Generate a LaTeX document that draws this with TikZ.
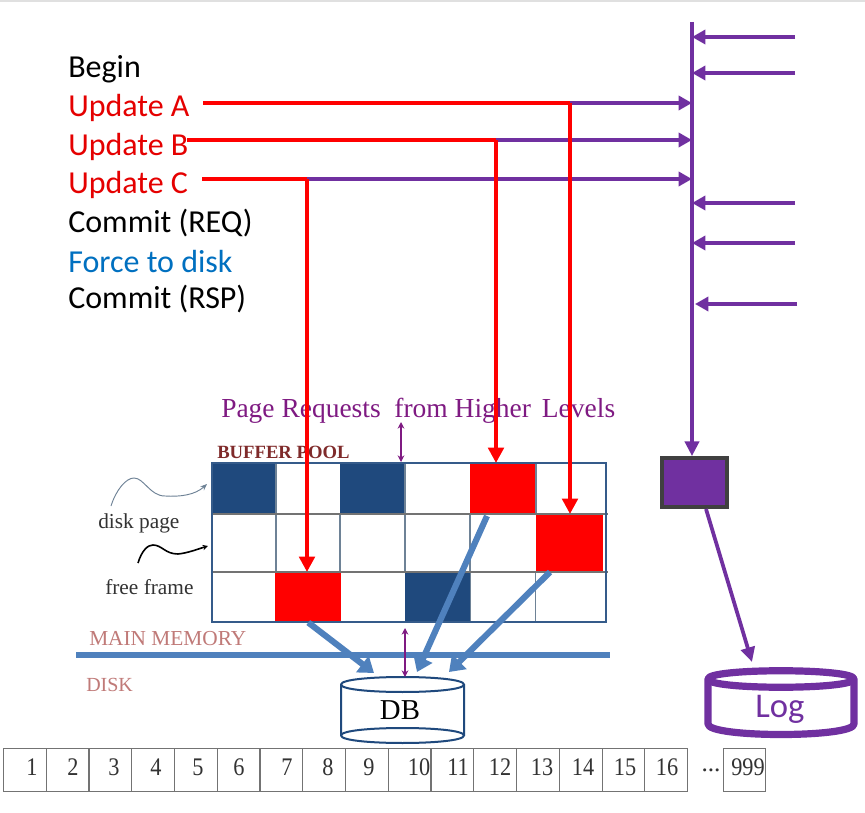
\documentclass[tikz,border=0pt]{standalone}
\usepackage{fontspec}
\setmainfont{Liberation Serif}
\newfontfamily\calfont{Carlito}
\usetikzlibrary{arrows.meta}
\definecolor{pur}{HTML}{7030A0}
\definecolor{mag}{HTML}{7F1A82}
\definecolor{navy}{HTML}{1F497D}
\definecolor{steel}{HTML}{4F81BD}
\definecolor{ored}{HTML}{FF0000}
\definecolor{gridc}{HTML}{6E8296}
\definecolor{rose}{HTML}{C07A78}
\definecolor{dred}{HTML}{7F2A2A}
\definecolor{frc}{HTML}{0070C0}
\tikzset{
  x=0.75pt,y=-0.75pt,
  stepline/.style={font=\calfont\fontsize{24pt}{26pt}\selectfont,anchor=west,inner sep=0pt},
  redline/.style={draw=ored,line width=3pt},
  redarrow/.style={redline,-{Triangle[length=11.5pt,width=11.5pt]}},
  purline/.style={draw=pur,line width=2.8pt},
  purarrow/.style={purline,-{Triangle[length=10pt,width=10.5pt]}},
  bluearrow/.style={draw=steel,line width=4.6pt,-{Triangle[length=11pt,width=15pt]}},
  thinarrow/.style={draw=mag,line width=1.3pt,{Stealth[length=5pt,width=5pt]}-{Stealth[length=5pt,width=5pt]}},
  cell/.style={draw=none,fill=#1,inner sep=0pt,anchor=north west},
  stripcell/.style={draw=black!55,line width=0.6pt,minimum width=32.06pt,minimum height=32.25pt,inner sep=0pt,anchor=north west},
  num/.style={font=\fontsize{19pt}{21pt}\selectfont,text=black!80,inner sep=0pt},
  sertext/.style={inner sep=0pt,anchor=west},
}
\begin{document}
\begin{tikzpicture}
\useasboundingbox (0,0) rectangle (865,813);
\fill[white] (0,0) rectangle (865,813);
\fill[black!12] (0,0) rectangle (865,2);
% transaction steps
\node[stepline,text=black] (begin) at (68,69.5) {Begin};
\node[stepline,text=ored!90!black] (ua) at (68,107.5) {Update A};
\node[stepline,text=ored!90!black] (ub) at (68,146.5) {Update B};
\node[stepline,text=ored!90!black] (uc) at (68,184.5) {Update C};
\node[stepline,text=black] (creq) at (68,223) {Commit (REQ)};
\node[stepline,text=frc] (force) at (68,261.5) {Force to disk};
\node[stepline,text=black] (crsp) at (68,299.5) {Commit (RSP)};
% labels of buffer pool
\node[sertext,text=mag,font=\fontsize{20.6pt}{22pt}\selectfont] (req) at (221,411) {Page Requests\hspace{0.25em} from Higher\hspace{0.15em} Levels};
\node[sertext,text=dred,font=\bfseries\fontsize{14pt}{16pt}\selectfont] (bp) at (217,452) {BUFFER POOL};
\node[sertext,text=black!80,font=\fontsize{16pt}{18pt}\selectfont] (dp) at (98,523) {disk page};
\node[sertext,text=black!80,font=\fontsize{16pt}{18pt}\selectfont] (ff) at (105,587) {free frame};
\node[sertext,text=rose,font=\fontsize{16pt}{18pt}\selectfont] (mm) at (89,639) {MAIN MEMORY};
\node[sertext,text=rose,font=\fontsize{15pt}{17pt}\selectfont] (dk) at (86,685) {DISK};
% filled cells
\node[cell=navy,minimum width=47.25pt,minimum height=38.25pt] (d1) at (212,463) {};
\node[cell=navy,minimum width=48.75pt,minimum height=38.25pt] (d2) at (340,463) {};
\node[cell=navy,minimum width=48.75pt,minimum height=37.5pt] (d3) at (405,572) {};
\node[cell=ored,minimum width=49.5pt,minimum height=37.5pt] (r1) at (275,572) {};
\node[cell=ored,minimum width=49.5pt,minimum height=38.25pt] (r2) at (470,463) {};
\node[cell=ored,minimum width=50.25pt,minimum height=43.5pt] (r3) at (536,514) {};
% grid
\draw[gridc,line width=0.9pt] (276,514) -- (276,572) (340,514) -- (340,572) (405,514) -- (405,572) (470,514) -- (470,572) (536,463) -- (536,514);
\draw[gridc,line width=0.9pt] (276,463) -- (276,514) (405,463) -- (405,514);
\draw[gridc,line width=0.7pt] (470,572) -- (470,622) (535,572) -- (535,622);
\draw[black!55,line width=0.8pt] (212,514) -- (608,514) (212,572) -- (608,572);
\draw[navy!90,line width=1.6pt] (212,463) rectangle (606,622);
% blue divider and page arrows
\draw[steel,line width=4.6pt] (76,655) -- (610,655);
% database
\draw[navy,line width=1.5pt,fill=white] (341,684.5) .. controls (341,674.5) and (464,674.5) .. (464,684.5) -- (464,735.5) .. controls (464,745.5) and (341,745.5) .. (341,735.5) -- cycle;
\draw[navy,line width=1.5pt] (341,684.5) .. controls (341,694.5) and (464,694.5) .. (464,684.5);
\draw[navy,line width=1.5pt] (341,735.5) .. controls (341,725.5) and (464,725.5) .. (464,735.5);
\node[font=\fontsize{21.6pt}{23pt}\selectfont,inner sep=0pt] (dbl) at (400,710) {DB};
\coordinate (dba) at (374,673);
\coordinate (dbb) at (417,672);
\coordinate (dbc) at (449,672);
\coordinate (dbtop) at (405,677);
\coordinate (r2out) at (487,516);
\coordinate (r3out) at (550,572);
\draw[bluearrow] (r1.south) -- (dba);
\draw[bluearrow] (r2out) -- (dbb);
\draw[bluearrow] (r3out) -- (dbc);
\draw[thinarrow] (401,422) -- (401,462);
\draw[thinarrow] (405,628) -- (dbtop);
% squiggles
\draw[gridc,line width=0.7pt,-{Stealth[length=5pt,width=4pt]}] (111,506) .. controls (116,490) and (126,478) .. (134,478) .. controls (144,478) and (150,496) .. (165,496) .. controls (180,497) and (195,495) .. (207,484);
\draw[black,line width=1.2pt,-{Stealth[length=4pt,width=4pt]}] (138,563) .. controls (142,550) and (148,545) .. (153,545) .. controls (162,545) and (165,554) .. (178,554) .. controls (188,553) and (198,549) .. (208,546);
% log path
\coordinate (top) at (692,22);
\node[draw=black!75,line width=2.6pt,fill=pur,minimum width=49pt,minimum height=37pt,inner sep=0pt] (buf) at (694.5,482.5) {};
\draw[purline,-{Triangle[length=11pt,width=10.5pt]}] (top) -- (buf.north -| top);
\foreach \n/\sx/\ty/\tx in {a/795/37/692,b/795/73/692,c/795/203/692,d/795/243/692,e/797/304/695} {
  \coordinate (s\n) at (\sx,\ty);
  \coordinate (t\n) at (\tx,\ty);
  \draw[purarrow] (s\n) -- (t\n);
}
% update arrows
\coordinate (ja) at (570,103);
\coordinate (jb) at (496,140);
\coordinate (jc) at (307,179);
\coordinate (ea) at (692,103);
\coordinate (eb) at (692,140);
\coordinate (ec) at (692,179);
\coordinate (oa) at (203,103);
\coordinate (ob) at (187,140);
\coordinate (oc) at (202,179);
\draw[purarrow] (ja) -- (ea);
\draw[purarrow] (jb) -- (eb);
\draw[purarrow] (jc) -- (ec);
\draw[redline] (oa) -- (ja);
\draw[redline] (ob) -- (jb);
\draw[redline] (oc) -- (jc);
\draw[redarrow] (ja) -- (r3.north -| ja);
\draw[redarrow] (jb) -- (r2.north -| jb);
\draw[redarrow] (jc) -- (r1.north -| jc);
% log
\draw[pur,line width=5.4pt,fill=white,line join=round] (708,679) .. controls (708,668) and (854,668) .. (854,679) -- (854,724) .. controls (854,738) and (708,738) .. (708,724) -- cycle;
\draw[pur,line width=5.4pt] (708,679) .. controls (708,690) and (854,690) .. (854,679);
\node[font=\calfont\fontsize{26pt}{28pt}\selectfont,text=pur,inner sep=0pt] (logl) at (780,709) {Log};
\coordinate (logtop) at (752,662);
\coordinate (bufout) at (706,509);
\draw[purline,-{Triangle[length=11pt,width=10.5pt]}] (bufout) -- (logtop);
% page strip
\foreach \i in {0,...,15} {
  \node[stripcell] (p\i) at ({3+42.75*\i},748) {};
}
\node[stripcell,minimum width=31.5pt] (p999) at (723,748) {};
\foreach \t/\px in {1/32,2/73,3/114,4/156,5/198,6/239,7/287,8/328,9/369,10/419,11/458,12/500,13/542,14/583,15/625,16/667,999/748} {
  \node[num] (n\t) at (\px,767) {\scalebox{0.88}[1]{\t}};
}
\node[num] (dots) at (711,770) {...};
\end{tikzpicture}
\end{document}
